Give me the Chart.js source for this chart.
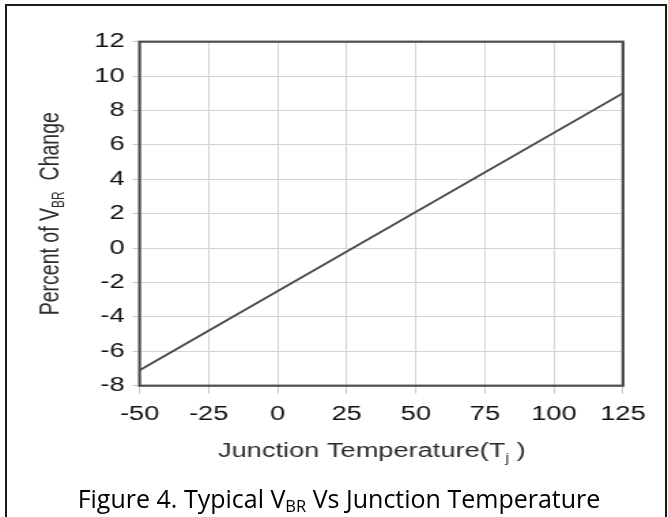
<!DOCTYPE html>
<html>
<head>
<meta charset="utf-8">
<script src="https://cdn.jsdelivr.net/npm/chart.js@4.4.1/dist/chart.umd.min.js"></script>
<style>
  html, body { margin: 0; padding: 0; background: #fff; width: 668px; height: 517px; overflow: hidden; }
  #borda { position: absolute; left: 5px; top: 4px; width: 662px; height: 600px; border: 2px solid #1a1a1a; box-sizing: border-box; }
  /* o gráfico original está esticado na horizontal */
  #wrap { position: absolute; left: 0; top: 0; width: 491px; height: 517px; transform: scaleX(1.3605); transform-origin: 0 0; }
  #legenda { position: absolute; left: 5px; top: 483px; width: 668px; text-align: center; font: 25px 'Open Sans', 'Noto Sans', sans-serif; line-height: 30px; color: #000; }
  #legenda span { font-size: 16.5px; position: relative; top: 4px; }
</style>
</head>
<body>
<div id="borda"></div>
<div id="wrap"><canvas id="grafico"></canvas></div>
<div id="legenda">Figure 4. Typical V<span>BR</span> Vs Junction Temperature</div>

<script>
// dados
const temperaturas = [-50, 125];
const variacaoVbr = [-7.1, 9.0];
const ticksX = [-50, -25, 0, 25, 50, 75, 100, 125];
const ticksY = [-8, -6, -4, -2, 0, 2, 4, 6, 8, 10, 12];

const fonteEixo = "'Liberation Sans', Arial, sans-serif";

// desenha um texto com partes em subscrito
function textoComSub(ctx, partes, x, y) {
  let total = 0;
  partes.forEach(p => {
    ctx.font = `${p.size}px ${fonteEixo}`;
    p.w = ctx.measureText(p.t).width;
    total += p.w;
  });
  let cx = x - total / 2;
  partes.forEach(p => {
    ctx.font = `${p.size}px ${fonteEixo}`;
    ctx.fillText(p.t, cx, y + (p.dy || 0));
    cx += p.w;
  });
}

const moldura = {
  id: 'moldura',
  afterDatasetsDraw(chart) {
    const { ctx, chartArea: a } = chart;
    ctx.save();
    ctx.strokeStyle = '#4d4d4d';
    ctx.lineWidth = 2.2;
    ctx.strokeRect(a.left, a.top, a.right - a.left, a.bottom - a.top);
    ctx.restore();
  }
};

const titulosEixos = {
  id: 'titulosEixos',
  afterDraw(chart) {
    const { ctx, chartArea: a } = chart;
    ctx.save();
    ctx.fillStyle = '#2b2b2b';
    ctx.textBaseline = 'alphabetic';
    ctx.textAlign = 'left';
    textoComSub(ctx, [
      { t: 'Junction Temperature(T', size: 20 },
      { t: 'j', size: 12, dy: 5 },
      { t: ' )', size: 20 }
    ], (a.left + a.right) / 2 - 7, 457);

    ctx.translate(42.6, (a.top + a.bottom) / 2);
    ctx.rotate(-Math.PI / 2);
    textoComSub(ctx, [
      { t: 'Percent of V', size: 19.5 },
      { t: 'BR', size: 12, dy: 4 },
      { t: '  Change', size: 19.5 }
    ], 0, 0);
    ctx.restore();
  }
};

new Chart(document.getElementById('grafico'), {
  type: 'line',
  data: {
    datasets: [{
      data: temperaturas.map((t, i) => ({ x: t, y: variacaoVbr[i] })),
      borderColor: '#474747',
      borderWidth: 1.8,
      pointRadius: 0,
      tension: 0
    }]
  },
  options: {
    responsive: true,
    maintainAspectRatio: false,
    animation: false,
    layout: { padding: { left: 62.6, right: 33.1, top: 41.7, bottom: 91.3 } },
    plugins: { legend: { display: false }, tooltip: { enabled: false } },
    scales: {
      x: {
        type: 'linear',
        min: -50,
        max: 125,
        afterBuildTicks: s => { s.ticks = ticksX.map(v => ({ value: v })); },
        afterFit: s => { s.height = 40; },
        border: { display: false },
        grid: { color: '#d4d4d4', lineWidth: 1, tickLength: 8, tickColor: '#c8c8c8' },
        ticks: { font: { family: fonteEixo, size: 20 }, color: '#111', padding: 9, maxRotation: 0, autoSkip: false }
      },
      y: {
        min: -8,
        max: 12,
        afterBuildTicks: s => { s.ticks = ticksY.map(v => ({ value: v })); },
        afterFit: s => { s.width = 40; },
        border: { display: false },
        grid: { color: '#d4d4d4', lineWidth: 1, tickLength: 5, tickColor: '#c8c8c8' },
        ticks: { font: { family: fonteEixo, size: 20 }, color: '#111', padding: 6, autoSkip: false }
      }
    }
  },
  plugins: [moldura, titulosEixos]
});
</script>
</body>
</html>
